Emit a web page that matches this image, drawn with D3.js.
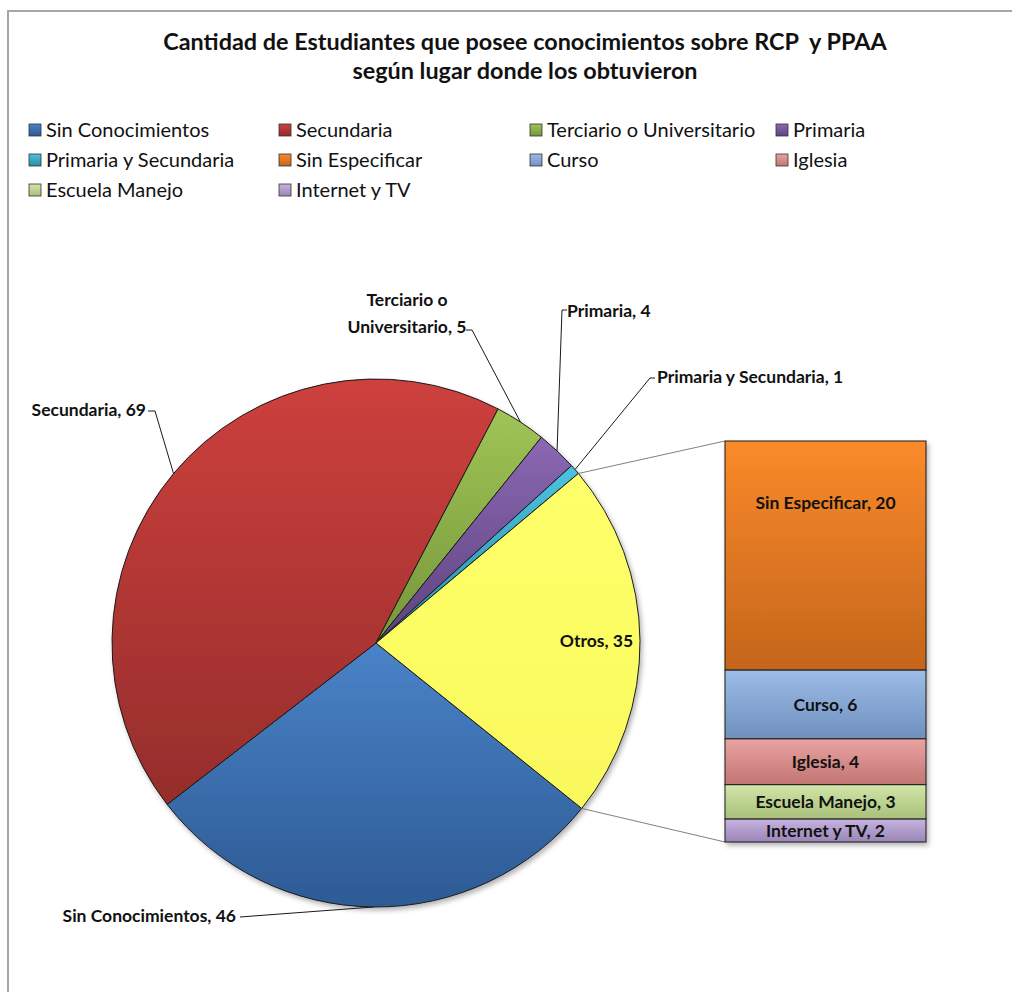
<!DOCTYPE html>
<html>
<head>
<meta charset="utf-8">
<script src="https://cdn.jsdelivr.net/npm/d3@7"></script>
<style>
  body { margin: 0; background: #fff; }
  text { font-family: Lato, "Open Sans", sans-serif; fill: #111; }
</style>
</head>
<body>
<div id="chart"></div>
<script>
// main pie
const pieNames = ['Sin Conocimientos', 'Secundaria', 'Terciario o Universitario', 'Primaria', 'Primaria y Secundaria', 'Otros'];
const pieValues = [46, 69, 5, 4, 1, 35];
// breakdown of "Otros"
const barNames = ['Sin Especificar', 'Curso', 'Iglesia', 'Escuela Manejo', 'Internet y TV'];
const barValues = [20, 6, 4, 3, 2];
// legend order as in the picture
const legendNames = ['Sin Conocimientos', 'Secundaria', 'Terciario o Universitario', 'Primaria',
  'Primaria y Secundaria', 'Sin Especificar', 'Curso', 'Iglesia', 'Escuela Manejo', 'Internet y TV'];

const colors = {
  'Sin Conocimientos': ['#4a83c8', '#2d5a94'],
  'Secundaria': ['#cd403d', '#952d2b'],
  'Terciario o Universitario': ['#a0c456', '#76963a'],
  'Primaria': ['#8a68b3', '#5f437f'],
  'Primaria y Secundaria': ['#4cc3e0', '#2a8ba6'],
  'Otros': ['#ffff6a', '#f9f95e'],
  'Sin Especificar': ['#fb8a2a', '#c4651c'],
  'Curso': ['#9dbde8', '#6f8fbd'],
  'Iglesia': ['#eaa3a1', '#c27573'],
  'Escuela Manejo': ['#d2e6a8', '#a8c07a'],
  'Internet y TV': ['#c6b3df', '#9a85b7']
};

const width = 1012, height = 992;
const svg = d3.select('#chart').append('svg')
  .attr('width', width)
  .attr('height', height);

svg.append('rect').attr('width', width).attr('height', height).attr('fill', '#fff');

const defs = svg.append('defs');
const slug = s => s.replace(/[^a-z]/gi, '');
Object.keys(colors).forEach(k => {
  const g = defs.append('linearGradient')
    .attr('id', 'g-' + slug(k))
    .attr('x1', 0).attr('y1', 0).attr('x2', 0).attr('y2', 1);
  g.append('stop').attr('offset', '0%').attr('stop-color', colors[k][0]);
  g.append('stop').attr('offset', '100%').attr('stop-color', colors[k][1]);
});
const shadow = defs.append('filter').attr('id', 'shadow')
  .attr('x', '-10%').attr('y', '-10%').attr('width', '120%').attr('height', '120%');
shadow.append('feDropShadow')
  .attr('dx', 2).attr('dy', 3).attr('stdDeviation', 2.5)
  .attr('flood-color', '#000').attr('flood-opacity', 0.3);
const fillOf = k => 'url(#g-' + slug(k) + ')';

// chart frame
svg.append('rect')
  .attr('x', 8).attr('y', 11)
  .attr('width', 1100).attr('height', 1100)
  .attr('fill', 'none')
  .attr('stroke', '#a6a6a6')
  .attr('stroke-width', 2);

// title
svg.append('text')
  .attr('x', 525).attr('y', 50)
  .attr('text-anchor', 'middle')
  .attr('xml:space', 'preserve')
  .style('font-size', '23.4px').style('font-weight', 'bold')
  .text('Cantidad de Estudiantes que posee conocimientos sobre RCP  y PPAA');
svg.append('text')
  .attr('x', 525).attr('y', 79)
  .attr('text-anchor', 'middle')
  .style('font-size', '23.4px').style('font-weight', 'bold')
  .text('según lugar donde los obtuvieron');

// legend
const legendX = [29, 279, 530, 776];
const legend = svg.append('g');
legendNames.forEach((name, i) => {
  const x = legendX[i % 4];
  const y = 130 + Math.floor(i / 4) * 30;
  legend.append('rect')
    .attr('x', x).attr('y', y - 6)
    .attr('width', 12).attr('height', 12)
    .attr('fill', fillOf(name))
    .attr('stroke', '#333').attr('stroke-width', 0.8);
  legend.append('text')
    .attr('x', x + 17).attr('y', y)
    .attr('dy', '0.35em')
    .style('font-size', '20px')
    .text(name);
});

// pie
const cx = 376, cy = 643, r = 264;
const startAngle = 128.8 * Math.PI / 180;
const pie = d3.pie().sort(null).value(d => d.value)
  .startAngle(startAngle).endAngle(startAngle + 2 * Math.PI);
const arcs = pie(pieNames.map((n, i) => ({ name: n, value: pieValues[i] })));
const arc = d3.arc().innerRadius(0).outerRadius(r);
const edge = a => [cx + r * Math.sin(a), cy - r * Math.cos(a)];

const pieG = svg.append('g').attr('transform', `translate(${cx},${cy})`);
pieG.append('g').attr('filter', 'url(#shadow)')
  .selectAll('path')
  .data(arcs)
  .enter()
  .append('path')
  .attr('d', arc)
  .attr('fill', d => fillOf(d.data.name))
  .attr('stroke', '#1a1a1a')
  .attr('stroke-width', 1);

// bar of "Otros"
const barTotal = d3.sum(barValues);
const yBar = d3.scaleLinear().domain([0, barTotal]).range([441, 842]);
const barX = 725, barW = 201;
let acc = 0;
const segs = barNames.map((n, i) => {
  const s = { name: n, value: barValues[i], y0: acc, y1: acc + barValues[i] };
  acc += barValues[i];
  return s;
});

const otros = arcs[arcs.length - 1];
const p1 = edge(otros.startAngle), p2 = edge(otros.endAngle);
svg.append('line')
  .attr('x1', p1[0]).attr('y1', p1[1]).attr('x2', barX).attr('y2', yBar(0))
  .attr('stroke', '#808080').attr('stroke-width', 1);
svg.append('line')
  .attr('x1', p2[0]).attr('y1', p2[1]).attr('x2', barX).attr('y2', yBar(barTotal))
  .attr('stroke', '#808080').attr('stroke-width', 1);

svg.append('g').attr('filter', 'url(#shadow)')
  .selectAll('rect')
  .data(segs)
  .enter()
  .append('rect')
  .attr('x', barX).attr('width', barW)
  .attr('y', d => yBar(d.y0))
  .attr('height', d => yBar(d.y1) - yBar(d.y0))
  .attr('fill', d => fillOf(d.name))
  .attr('stroke', '#1a1a1a').attr('stroke-width', 1);

svg.append('g')
  .selectAll('text')
  .data(segs)
  .enter()
  .append('text')
  .attr('x', barX + barW / 2)
  .attr('y', d => Math.min((yBar(d.y0) + yBar(d.y1)) / 2, yBar(d.y0) + 62))
  .attr('dy', '0.35em')
  .attr('text-anchor', 'middle')
  .style('font-size', '17.5px').style('font-weight', 'bold')
  .text(d => `${d.name}, ${d.value}`);

// pie data labels with leader lines
const labelStyle = sel => sel.style('font-size', '17.5px').style('font-weight', 'bold');
const mid = d => (d.startAngle + d.endAngle) / 2;
const labelPos = {
  'Sin Conocimientos': { x: 236, y: 916, anchor: 'end', path: [[240, 917]] },
  'Secundaria': { x: 146, y: 410, anchor: 'end', path: [[148, 411], [155, 411]] },
  'Terciario o Universitario': { x: 407, y: 300, anchor: 'middle', lines: ['Terciario o', 'Universitario, 5'], path: [[466, 330], [472, 330]] },
  'Primaria': { x: 567, y: 311, anchor: 'start', path: [[567, 310], [562, 310]] },
  'Primaria y Secundaria': { x: 657, y: 377, anchor: 'start', path: [[655, 378], [650, 378]] }
};

const lblG = svg.append('g');
arcs.forEach(d => {
  const name = d.data.name;
  const lp = labelPos[name];
  if (!lp) {
    // inside label
    const a = mid(d), rr = r * 0.835;
    labelStyle(lblG.append('text'))
      .attr('x', cx + rr * Math.sin(a)).attr('y', cy - rr * Math.cos(a))
      .attr('dy', '0.35em').attr('text-anchor', 'middle')
      .text(`${name}, ${d.data.value}`);
    return;
  }
  const lines = lp.lines || [`${name}, ${d.data.value}`];
  const t = labelStyle(lblG.append('text'))
    .attr('x', lp.x).attr('y', lp.y)
    .attr('text-anchor', lp.anchor);
  lines.forEach((ln, i) => {
    t.append('tspan').attr('x', lp.x).attr('dy', i === 0 ? '0.35em' : '1.55em').text(ln);
  });
  const pts = lp.path.concat([edge(mid(d))]);
  lblG.append('path')
    .attr('d', d3.line()(pts))
    .attr('fill', 'none')
    .attr('stroke', '#1a1a1a')
    .attr('stroke-width', 1);
});
</script>
</body>
</html>
